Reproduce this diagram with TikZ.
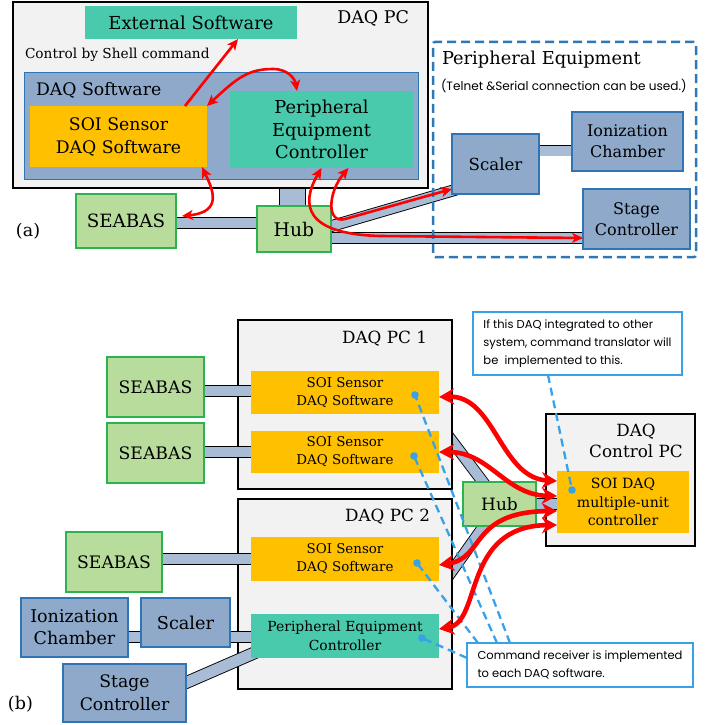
\documentclass[tikz,border=0pt]{standalone}
\usepackage{fontspec}
\setmainfont{DejaVu Serif}
\newfontfamily\gothic{Poppins}
\usetikzlibrary{arrows.meta,calc}
\definecolor{pcgray}{HTML}{F2F2F2}
\definecolor{soiorange}{HTML}{FFC000}
\definecolor{tealbox}{HTML}{4ACAAD}
\definecolor{greenfill}{HTML}{B7DC9C}
\definecolor{greenline}{HTML}{2BB350}
\definecolor{eqblue}{HTML}{8EA9C9}
\definecolor{eqline}{HTML}{2E75B6}
\definecolor{cableblue}{HTML}{A9BCD6}
\definecolor{perblue}{HTML}{2F78B5}
\definecolor{callblue}{HTML}{38A2E8}
\newcommand\myfs[2]{\fontsize{#1}{#2}\selectfont}
\pgfdeclarelayer{lowcab}
\pgfdeclarelayer{pcs}
\pgfdeclarelayer{upcab}
\pgfsetlayers{lowcab,pcs,upcab,main}
\tikzset{
  redtipA/.tip={Stealth[length=11pt,width=10pt,inset=3pt]},
  redtipB/.tip={Stealth[length=15pt,width=16pt,inset=4.5pt]},
  blk/.style={inner sep=0pt, outer sep=0pt, anchor=north west, align=center},
  pc/.style={blk, draw=black, line width=2.6pt, fill=pcgray},
  orangebox/.style={blk, fill=soiorange},
  tbox/.style={blk, fill=tealbox},
  gbox/.style={blk, fill=greenfill, draw=greenline, line width=1.2pt},
  ebox/.style={blk, fill=eqblue, draw=eqline, line width=1.2pt},
  cable/.style={draw=black, line width=0.9pt, double=cableblue, double distance=#1},
  cable/.default=10pt,
  redA/.style={draw=red, line width=2.6pt},
  redB/.style={draw=red, line width=4.6pt},
  calldash/.style={draw=callblue, line width=2.3pt, dash pattern=on 8pt off 5pt},
  callbox/.style={blk, draw=callblue, line width=2.2pt, fill=white, align=left, font={\gothic\myfs{11.5}{18}}},
  lbl/.style={inner sep=0pt, outer sep=0pt},
}
\begin{document}
\begin{tikzpicture}[x=1pt,y=-1pt]
\useasboundingbox (0,0) rectangle (719,725);
% ================= (a) =================
\begin{pgfonlayer}{pcs}
\node[pc, minimum width=415pt, minimum height=186pt] (daqpc) at (13,2) {};
\end{pgfonlayer}
\node[lbl, anchor=base east, font={\myfs{17.5}{20}}] (daqpclbl) at (409,24) {DAQ PC};
\node[tbox, minimum width=212pt, minimum height=33pt, font={\myfs{17.9}{23}}] (ext) at (85,6) {External Software};
\node[lbl, anchor=base west, font={\myfs{13.7}{16}}] (shell) at (25,59) {Control by Shell command};
\node[blk, fill=eqblue, draw=eqline, line width=1pt, minimum width=394pt, minimum height=107pt] (dsw) at (24,72) {};
\node[lbl, anchor=base west, font={\myfs{17.3}{23}}] (dswlbl) at (36,95) {DAQ Software};
\node[orangebox, minimum width=177pt, minimum height=61pt, font={\myfs{17.3}{23}}] (soiA) at (30,106) {SOI Sensor\\DAQ Software};
\node[tbox, minimum width=183pt, minimum height=77pt, font={\myfs{17.8}{22.5}}] (pecA) at (230,91) {Peripheral\\Equipment\\Controller};
\node[gbox, minimum width=100pt, minimum height=54pt, font={\myfs{18.3}{23}}] (seabasA) at (76,194) {SEABAS};
\node[gbox, minimum width=74pt, minimum height=46pt, font={\myfs{18.8}{23}}] (hubA) at (257,206) {Hub};
\node[lbl, anchor=base west, font={\myfs{17.5}{22}}] (labA) at (16,236) {(a)};
\node[blk, draw=perblue, line width=2.5pt, dash pattern=on 9pt off 5pt, rounded corners=2pt, minimum width=263pt, minimum height=215pt] (periph) at (433,42) {};
\node[lbl, anchor=base west, font={\myfs{17.8}{23}}] (perlbl) at (442,65) {Peripheral Equipment};
\node[lbl, anchor=base west, font={\gothic\myfs{12.1}{14}}] (telnet) at (441,90) {(Telnet \&Serial connection can be used.)};
\node[ebox, minimum width=87pt, minimum height=60pt, font={\myfs{16.6}{21}}] (scalerA) at (452,134) {Scaler};
\node[ebox, minimum width=111pt, minimum height=59pt, font={\myfs{16}{21}}] (ionA) at (572,112) {Ionization\\Chamber};
\node[ebox, minimum width=107pt, minimum height=60pt, font={\myfs{16}{21}}] (stageA) at (583,189) {Stage\\Controller};

\begin{pgfonlayer}{lowcab}
\draw[cable=25pt] (daqpc.center -| 292.5,0) -- (hubA.center -| 292.5,0);
\end{pgfonlayer}
\begin{pgfonlayer}{upcab}
\draw[cable] (seabasA.center |- 0,223) -- (hubA.center |- 0,223);
\draw[cable] (hubA.center |- 0,238) -- (stageA.center |- 0,238);
\draw[cable] (hubA.center |- 0,237) -- ($(scalerA.south west)+(13,-7)$);
\draw[cable] (scalerA.center |- 0,150.5) -- (ionA.center |- 0,150.5);
\end{pgfonlayer}

\draw[redA, -redtipA] (soiA.north -| 185,0) -- (ext.south -| 238,0);
\draw[redA, redtipA-redtipA] (soiA.north east) .. controls +(30,-28) and +(-25,0) .. (273,69) .. controls +(15,0) and +(-2,-12) .. (pecA.north -| 297,0);
\draw[redA, redtipA-redtipA] (soiA.south -| 202,0) .. controls (212,188) and (224,212) .. ($(seabasA.east)+(6,-5)$);
\draw[redA, redtipA-redtipA] (pecA.south) .. controls (300,205) and (305,234) .. (380,236) -- (stageA.west |- 0,238);
\draw[redA, redtipA-redtipA] ([xshift=27pt]pecA.south) .. controls (328,192) and (326,224) .. (345,219) -- ($(scalerA.south west)+(0,-5)$);

% ================= (b) =================
\begin{pgfonlayer}{pcs}
\node[pc, minimum width=214pt, minimum height=169pt] (pc1) at (238,320) {};
\node[pc, minimum width=214pt, minimum height=190pt] (pc2) at (238,499) {};
\node[pc, minimum width=149pt, minimum height=132pt] (ctrlpc) at (546,414) {};
\end{pgfonlayer}
\node[lbl, anchor=base east, font={\myfs{16.8}{22}}] (pc1lbl) at (427,343) {DAQ PC 1};
\node[lbl, anchor=base east, font={\myfs{16.8}{22}}] (pc2lbl) at (430,521) {DAQ PC 2};
\node[lbl, align=center, font={\myfs{16.8}{21}}] (ctrllbl) at (636,441) {DAQ\\Control PC};
\node[orangebox, minimum width=188pt, minimum height=43pt, font={\myfs{13.4}{18}}] (soi1) at (251,371) {SOI Sensor\\DAQ Software};
\node[orangebox, minimum width=188pt, minimum height=42pt, font={\myfs{13.4}{18}}] (soi2) at (251,431) {SOI Sensor\\DAQ Software};
\node[orangebox, minimum width=188pt, minimum height=44pt, font={\myfs{13.4}{18}}] (soi3) at (251,537) {SOI Sensor\\DAQ Software};
\node[tbox, minimum width=188pt, minimum height=44pt, font={\myfs{13.9}{19}}] (pec2) at (251,614) {Peripheral Equipment\\Controller};
\node[gbox, minimum width=97pt, minimum height=60pt, font={\myfs{17.2}{22}}] (sb1) at (107,357) {SEABAS};
\node[gbox, minimum width=97pt, minimum height=60pt, font={\myfs{17.2}{22}}] (sb2) at (107,423) {SEABAS};
\node[gbox, minimum width=96pt, minimum height=60pt, font={\myfs{17.2}{22}}] (sb3) at (66,532) {SEABAS};
\node[ebox, minimum width=107pt, minimum height=59pt, font={\myfs{17.5}{22}}] (ionB) at (21,598) {Ionization\\Chamber};
\node[ebox, minimum width=89pt, minimum height=49pt, font={\myfs{17.7}{22}}] (scalerB) at (141,598) {Scaler};
\node[ebox, minimum width=123pt, minimum height=58pt, font={\myfs{17.2}{23}}] (stageB) at (63,664) {Stage\\Controller};
\node[lbl, anchor=base west, font={\myfs{17.5}{22}}] (labB) at (8,709) {(b)};
\node[gbox, minimum width=73pt, minimum height=44pt, font={\myfs{17}{22}}] (hubB) at (463,482) {Hub};
\node[orangebox, minimum width=132pt, minimum height=62pt, font={\myfs{14.1}{18.5}}] (muc) at (557,471) {SOI DAQ\\multiple-unit\\controller};

\begin{pgfonlayer}{lowcab}
\draw[cable] ($(pc1.east |- 0,441)!-0.25!(hubB.center)$) -- (hubB.center);
\draw[cable] ($(pc2.east |- 0,571)!-0.25!(hubB.center)$) -- (hubB.center);
\end{pgfonlayer}
\begin{pgfonlayer}{upcab}
\draw[cable] (sb1.center |- 0,391) -- (soi1.center |- 0,391);
\draw[cable] (sb2.center |- 0,452) -- (soi2.center |- 0,452);
\draw[cable] (sb3.center |- 0,559) -- (soi3.center |- 0,559);
\draw[cable] (ionB.center |- 0,637) -- (scalerB.center |- 0,637);
\draw[cable] (scalerB.center |- 0,637) -- (pec2.center |- 0,637);
\draw[cable=11pt] ($(stageB.east |- 0,683)+(-10,4)$) -- ($(pec2.south west)+(10,-8)$);
\draw[cable] (hubB.center) -- (hubB.center -| muc.center);
\end{pgfonlayer}

% callouts
\node[callbox, minimum width=209pt, minimum height=63pt] (call1) at (473,312) {If this DAQ integrated to other\\system, command translator will\\be\ \ implemented to this.};
\node[callbox, minimum width=226pt, minimum height=44pt] (call2) at (467,643) {Command receiver is implemented\\to each DAQ software.};
\coordinate (d1) at (415,395);
\coordinate (d2) at (414,456);
\coordinate (d3) at (417,563);
\coordinate (d4) at (422,638);
\coordinate (d5) at (572,490);
\draw[calldash] (call2.north -| 510,0) -- (d1);
\draw[calldash] (call2.north -| 497,0) -- (d2);
\draw[calldash] (call2.north -| 478,0) -- (d3);
\draw[calldash] (call2.west |- 0,658) -- (d4);
\draw[calldash] (call1.south -| 548,0) -- (d5);
\foreach \d in {d1,d2,d3,d4,d5} \fill[callblue] (\d) circle[radius=3.8pt];

% red arrows (b)
\draw[redB, redtipB-redtipB] (soi1.east |- 0,397) .. controls (495,395) and (500,478) .. (muc.west |- 0,481);
\draw[redB, redtipB-redtipB] (soi2.east |- 0,452) .. controls (490,452) and (505,495) .. (muc.west |- 0,496);
\draw[redB, redtipB-redtipB] (soi3.east |- 0,565) .. controls (485,558) and (470,512) .. (muc.west |- 0,511);
\draw[redB, redtipB-redtipB] (pec2.east |- 0,629) .. controls (482,622) and (462,526) .. (muc.west |- 0,525);
\end{tikzpicture}
\end{document}
